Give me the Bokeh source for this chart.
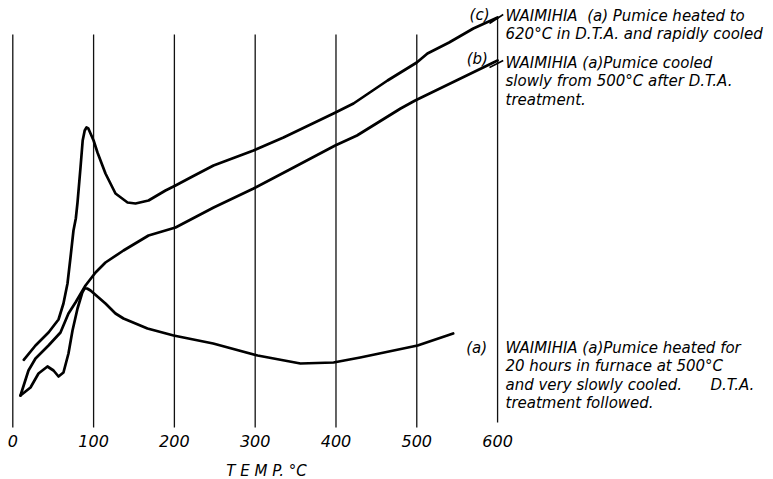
from bokeh.plotting import figure
from bokeh.models import Range1d
from bokeh.core.properties import value
from bokeh.embed import file_html
from bokeh.resources import INLINE

# ---- data (temperature in deg C, relative DTA signal) ----
temp_a = [9.5, 21.9, 31.8, 42.9, 50.4, 56.6, 62.7, 68.9, 73.9, 80.1, 86, 88.7, 92, 96.2,
          114.7, 127.1, 137, 166.7, 199, 248, 303, 356, 397, 430, 501, 545]
sig_a = [35, 43, 57, 64, 60, 54, 58, 77, 100, 122, 138, 142, 142, 140,
         127, 117, 112, 102, 95, 87, 75, 67, 68, 73, 85, 97]

temp_b = [9.5, 19.4, 28.1, 44.2, 59, 68.9, 77.6, 90, 102.4, 114.7, 137, 168,
          201.4, 248.6, 298, 347.5, 399, 426, 480, 498, 600]
sig_b = [35, 60, 72, 85, 98, 117, 128, 145, 158, 168, 180, 195,
         203, 223, 242, 263, 285, 295, 322, 330, 370]

temp_c = [13.6, 28.1, 44.2, 56.6, 62.7, 67.7, 71.4, 75.1, 78, 80.1, 83.8, 86.5, 89, 91.2, 93.5,
          96.2, 100, 104.8, 114.7, 127.1, 142, 151.9, 168, 189, 201.4, 220, 248.4,
          297.9, 335, 396.9, 421.7, 440, 463.8, 500, 513.2, 540, 570, 600]
sig_c = [70.7, 85, 98, 111, 127, 147, 173, 200, 212, 228, 263, 290, 300, 303, 302,
         297, 290, 278, 257, 237, 228, 227, 230, 240, 245, 253, 265,
         280, 293, 317, 327, 337, 350, 368, 377, 388, 402, 413]

ticks = [0, 100, 200, 300, 400, 500, 600]
tick_labels = ["0", "100", "200", "300", "400", "500", "600"]

NB = "\u00a0"
label_c = ["WAIMIHIA" + NB + " (a) Pumice heated to", "620°C in D.T.A. and rapidly cooled"]
label_b = ["WAIMIHIA (a)Pumice cooled", "slowly from 500°C after D.T.A.", "treatment."]
label_a = ["WAIMIHIA (a)Pumice heated for", "20 hours in furnace at 500°C",
           "and very slowly cooled." + NB * 5 + " D.T.A.", "treatment followed."]

FONT = value("DejaVu Sans")

p = figure(width=773, height=479, output_backend="svg", toolbar_location=None,
           x_axis_type=None, y_axis_type=None,
           x_range=Range1d(-15.22, 941.5), y_range=Range1d(-49, 430),
           min_border=0, min_border_left=0, min_border_right=0,
           min_border_top=0, min_border_bottom=0)
p.outline_line_color = None
p.background_fill_color = "white"
p.border_fill_color = "white"

# vertical temperature lines
g_top = [396] * 6 + [413]
g_bot = [3] * 6 + [8]
p.segment(x0=ticks, y0=g_bot, x1=ticks, y1=g_top, line_color="#111111", line_width=1.3)

# curves
for tx, sy in [(temp_a, sig_a), (temp_b, sig_b), (temp_c, sig_c)]:
    p.line(tx, sy, line_color="black", line_width=2.7, line_join="round", line_cap="round")

# connectors to labels
p.segment(x0=[590, 590], y0=[407, 363], x1=[607, 607], y1=[416, 370],
          line_color="black", line_width=1.5)

# tick labels
p.text(x=ticks, y=[-10] * len(ticks), text=tick_labels, text_font=FONT,
       text_font_style="italic", text_font_size="16px", text_align="center",
       text_baseline="middle", text_color="black")
p.text(x=[314], y=[-40], text=["T E M P. °C"], text_font=FONT,
       text_font_style="italic", text_font_size="15px", text_align="center",
       text_baseline="middle", text_color="black")

# series letters
p.text(x=[590, 588, 587], y=[416, 372, 83], text=["(c)", "(b)", "(a)"],
       text_font=FONT, text_font_style="italic", text_font_size="15px",
       text_align="right", text_baseline="middle", text_color="black")

# descriptions
def block(lines, y0):
    ys = [y0 - 18.5 * i for i in range(len(lines))]
    p.text(x=[609.8] * len(lines), y=ys, text=lines, text_font=FONT,
           text_font_style="italic", text_font_size="15px", text_align="left",
           text_baseline="middle", text_color="black")

block(label_c, 415)
block(label_b, 368)
block(label_a, 83)

open("out.html", "w").write(file_html(p, INLINE))
